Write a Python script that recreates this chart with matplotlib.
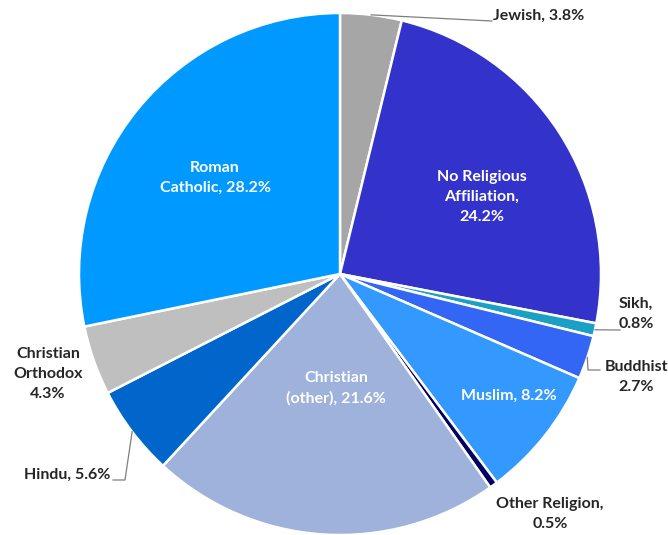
import numpy as np
import matplotlib
matplotlib.use("Agg")
import matplotlib.pyplot as plt

# shares of population, clockwise from 12 o'clock
religions = ["Jewish", "No Religious Affiliation", "Sikh", "Buddhist", "Muslim",
             "Other Religion", "Christian (other)", "Hindu", "Christian Orthodox",
             "Roman Catholic"]
shares = [3.8, 24.2, 0.8, 2.7, 8.2, 0.5, 21.6, 5.6, 4.3, 28.2]
labels = ["Jewish, 3.8%", "No Religious\nAffiliation,\n24.2%", "Sikh,\n0.8%",
          "Buddhist\n2.7%", "Muslim, 8.2%", "Other Religion,\n0.5%",
          "Christian\n(other), 21.6%", "Hindu, 5.6%", "Christian\nOrthodox\n4.3%",
          "Roman\nCatholic, 28.2%"]
colors = ["#A6A6A6", "#3333CC", "#1C9FC4", "#3366F5", "#3399FF",
          "#000066", "#9EB2DB", "#0066CC", "#BFBFBF", "#0099FF"]

W, H = 668, 535
CX, CY, R = 340, H - 274, 261

# label layout in image pixels (x, y from top), inside labels are white
label_pos = {
    "Jewish": (539, 16), "No Religious Affiliation": (482, 197),
    "Sikh": (636, 314), "Buddhist": (636, 377), "Muslim": (509, 396),
    "Other Religion": (550, 514), "Christian (other)": (336, 388),
    "Hindu": (67, 475), "Christian Orthodox": (48, 374),
    "Roman Catholic": (215, 178),
}
inside = {"No Religious Affiliation", "Muslim", "Christian (other)", "Roman Catholic"}
# leader line bends (image pixels) after the rim point
leaders = {
    "Jewish": [(492, 21)],
    "Sikh": [(620, 330)],
    "Buddhist": [(588, 370), (600, 370)],
    "Hindu": [(125, 480), (113, 480)],
}

plt.rcParams["font.family"] = ["Lato", "DejaVu Sans"]

fig = plt.figure(figsize=(W / 100, H / 100), dpi=100)
ax = fig.add_axes([0, 0, 1, 1])
wedges, _ = ax.pie(shares, colors=colors, startangle=90, counterclock=False,
                   center=(CX, CY), radius=R, frame=True,
                   wedgeprops=dict(edgecolor="white", linewidth=1.8))
ax.set_xlim(0, W)
ax.set_ylim(0, H)
ax.set_aspect("equal")
ax.axis("off")

for name, w, lab in zip(religions, wedges, labels):
    x, y = label_pos[name]
    col = "white" if name in inside else "#262626"
    ax.text(x, H - y, lab, ha="center", va="center", multialignment="center",
            fontsize=11.5, fontweight="bold", color=col, linespacing=1.55)
    if name in leaders:
        mid = np.deg2rad((w.theta1 + w.theta2) / 2)
        xs = [CX + R * np.cos(mid)] + [p[0] for p in leaders[name]]
        ys = [CY + R * np.sin(mid)] + [H - p[1] for p in leaders[name]]
        ax.plot(xs, ys, color="#7F7F7F", linewidth=0.9)

fig.savefig("out.png", dpi=100)
